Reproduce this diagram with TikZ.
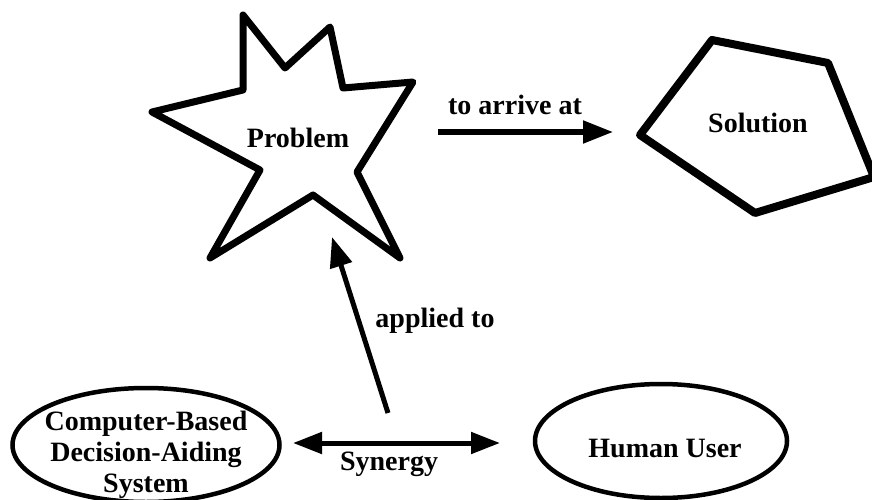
\documentclass[tikz,border=0pt]{standalone}
\usepackage{fontspec}
\setmainfont{Liberation Serif}
\usetikzlibrary{arrows.meta,shapes.geometric}
\begin{document}
\begin{tikzpicture}[x=1pt,y=-1pt,
  lbl/.style={font=\fontsize{28}{31}\selectfont\bfseries, inner sep=0pt},
  bubble/.style={ellipse, draw, line width=4.5pt, inner sep=0pt},
  conn/.style={line width=5pt, -{Triangle[length=30pt,width=22pt]}},
  bothconn/.style={line width=5pt, {Triangle[length=29pt,width=21pt]}-{Triangle[length=29pt,width=21pt]}}]
  \useasboundingbox (0,0) rectangle (872,500);

  % star-shaped problem outline
  \draw[line width=7pt, line join=round]
    (243,15) -- (285,68) -- (330,27) -- (343,88) -- (413,82) -- (357,172)
    -- (400,258) -- (313,195) -- (210,258) -- (260,170) -- (152,112)
    -- (243,90) -- cycle;
  \node[lbl, anchor=base] (problem) at (298,147) {Problem};

  % pentagon solution outline
  \draw[line width=8pt, line join=round]
    (712,40) -- (828,63) -- (874,177) -- (755,213) -- (640,135) -- cycle;
  \node[lbl, anchor=base] (solution) at (758,132) {Solution};

  % the two partners
  \node[bubble, minimum width=267pt, minimum height=114pt] (cbdas) at (146,445) {};
  \node[lbl, align=center, anchor=north] (cbdastext) at (146,411)
    {Computer-Based\\Decision-Aiding\\System};
  \node[bubble, minimum width=252pt, minimum height=114pt] (human) at (661,441) {};
  \node[lbl, anchor=base] (humantext) at (665,457) {Human User};

  % connector end points
  \coordinate (arriveS) at (438,132);
  \coordinate (arriveE) at (613,132);
  \coordinate (appliedS) at (388,413);
  \coordinate (appliedE) at (332,237);
  \coordinate (synL) at (293,443);
  \coordinate (synR) at (500,443);

  \draw[conn] (arriveS) -- (arriveE);
  \node[lbl, anchor=base] (arrivelbl) at (515,115) {to arrive at};

  \draw[conn] (appliedS) -- (appliedE);
  \node[lbl, anchor=base] (appliedlbl) at (435,327) {applied to};

  \draw[bothconn] (synL) -- (synR);
  \node[lbl, anchor=base] (synlbl) at (389,470) {Synergy};
\end{tikzpicture}
\end{document}
